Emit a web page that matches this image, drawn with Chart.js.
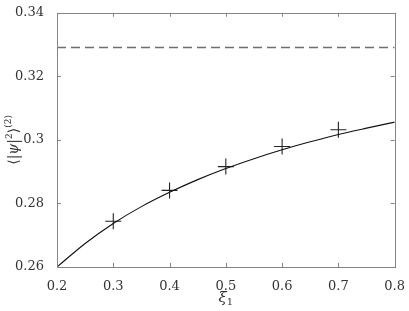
<!DOCTYPE html>
<html>
<head>
<meta charset="utf-8">
<script src="https://cdn.jsdelivr.net/npm/chart.js@4"></script>
<style>
  html, body { margin: 0; padding: 0; background: #fff; }
  #wrap { width: 409px; height: 311px; }
</style>
</head>
<body>
<div id="wrap"><canvas id="xiChart"></canvas></div>
<script>
// curve
const curveX = [0.2, 0.25, 0.3, 0.35, 0.4, 0.45, 0.5, 0.55, 0.6, 0.65, 0.7, 0.75, 0.8];
const curveY = [0.2600, 0.2674, 0.2737, 0.2790, 0.2835, 0.2875, 0.2910, 0.2941, 0.2969, 0.2994, 0.3017, 0.3037, 0.3056];

// simulation points (crosses)
const markX = [0.3, 0.4, 0.5, 0.6, 0.7];
const markY = [0.2744, 0.2841, 0.2916, 0.2979, 0.3032];

// dashed reference level
const levelX = [0.2, 0.8];
const levelY = [0.3291, 0.3291];

const xTicks = [0.2, 0.3, 0.4, 0.5, 0.6, 0.7, 0.8];
const yTicks = [0.26, 0.28, 0.3, 0.32, 0.34];

const toPts = (xs, ys) => xs.map((x, i) => ({ x: x, y: ys[i] }));
const fmt = v => Number(Number(v).toFixed(2)).toString();

const serif = "'DejaVu Serif', 'Liberation Serif', serif";
const textColor = '#333';

// draws a run of [text, size, italic, baselineShift] pieces starting at x
function drawRun(ctx, parts, x, y) {
  parts.forEach(p => {
    ctx.font = (p[2] ? 'italic ' : '') + p[1] + 'px ' + serif;
    ctx.fillText(p[0], x, y + p[3]);
    x += ctx.measureText(p[0]).width;
  });
}
function runWidth(ctx, parts) {
  let w = 0;
  parts.forEach(p => {
    ctx.font = (p[2] ? 'italic ' : '') + p[1] + 'px ' + serif;
    w += ctx.measureText(p[0]).width;
  });
  return w;
}

const yTitle = [['⟨|', 14, false, 0], ['ψ', 14, true, 0], ['|', 14, false, 0], ['2', 9, false, -6],
  ['⟩', 14, false, 0], ['(2)', 9, false, -7]];
const xTitle = [['ξ', 15, true, 0], ['1', 10, false, 3]];

// box, inward ticks and axis titles
const boxPlugin = {
  id: 'box',
  afterDatasetsDraw(chart) {
    const { ctx, chartArea: a, scales } = chart;
    ctx.save();
    ctx.strokeStyle = '#858585';
    ctx.lineWidth = 1;
    ctx.strokeRect(Math.round(a.left) + 0.5, Math.round(a.top) + 0.5,
      Math.round(a.right - a.left), Math.round(a.bottom - a.top));
    const len = 4;
    ctx.beginPath();
    xTicks.forEach(v => {
      const px = Math.round(scales.x.getPixelForValue(v)) + 0.5;
      ctx.moveTo(px, a.bottom); ctx.lineTo(px, a.bottom - len);
      ctx.moveTo(px, a.top); ctx.lineTo(px, a.top + len);
    });
    yTicks.forEach(v => {
      const py = Math.round(scales.y.getPixelForValue(v)) + 0.5;
      ctx.moveTo(a.left, py); ctx.lineTo(a.left + len, py);
      ctx.moveTo(a.right, py); ctx.lineTo(a.right - len, py);
    });
    ctx.stroke();

    ctx.fillStyle = textColor;
    ctx.textBaseline = 'alphabetic';
    ctx.textAlign = 'left';
    // x title
    const xw = runWidth(ctx, xTitle);
    drawRun(ctx, xTitle, (a.left + a.right) / 2 - xw / 2, 302);
    // y title, rotated
    const yw = runWidth(ctx, yTitle);
    ctx.translate(18, (a.top + a.bottom) / 2);
    ctx.rotate(-Math.PI / 2);
    drawRun(ctx, yTitle, -yw / 2, 0);
    ctx.restore();
  }
};

new Chart(document.getElementById('xiChart').getContext('2d'), {
  type: 'scatter',
  data: {
    datasets: [
      {
        label: 'level',
        data: toPts(levelX, levelY),
        showLine: true,
        borderColor: '#6e6e6e',
        borderWidth: 1.6,
        borderDash: [9, 5],
        pointRadius: 0
      },
      {
        label: 'curve',
        data: toPts(curveX, curveY),
        showLine: true,
        borderColor: '#111',
        borderWidth: 1.1,
        cubicInterpolationMode: 'monotone',
        pointRadius: 0
      },
      {
        label: 'points',
        data: toPts(markX, markY),
        pointStyle: 'cross',
        pointRadius: 8,
        pointBorderWidth: 1.1,
        borderColor: '#222',
        backgroundColor: '#222'
      }
    ]
  },
  options: {
    responsive: true,
    maintainAspectRatio: false,
    animation: false,
    layout: { padding: { top: 6, right: 11, left: 0, bottom: 0 } },
    plugins: {
      legend: { display: false },
      tooltip: { enabled: false }
    },
    scales: {
      x: {
        type: 'linear',
        min: 0.2,
        max: 0.8,
        afterBuildTicks: s => { s.ticks = xTicks.map(v => ({ value: v })); },
        afterFit: s => { s.height = 44; },
        grid: { display: false },
        border: { display: false },
        ticks: {
          callback: fmt,
          color: textColor,
          padding: 4,
          maxRotation: 0,
          font: { family: serif, size: 13 }
        }
      },
      y: {
        type: 'linear',
        min: 0.26,
        max: 0.34,
        afterBuildTicks: s => { s.ticks = yTicks.map(v => ({ value: v })); },
        afterFit: s => { s.width = 57; },
        grid: { display: false },
        border: { display: false },
        ticks: {
          callback: fmt,
          color: textColor,
          padding: 5,
          font: { family: serif, size: 13 }
        }
      }
    }
  },
  plugins: [boxPlugin]
});
</script>
</body>
</html>
